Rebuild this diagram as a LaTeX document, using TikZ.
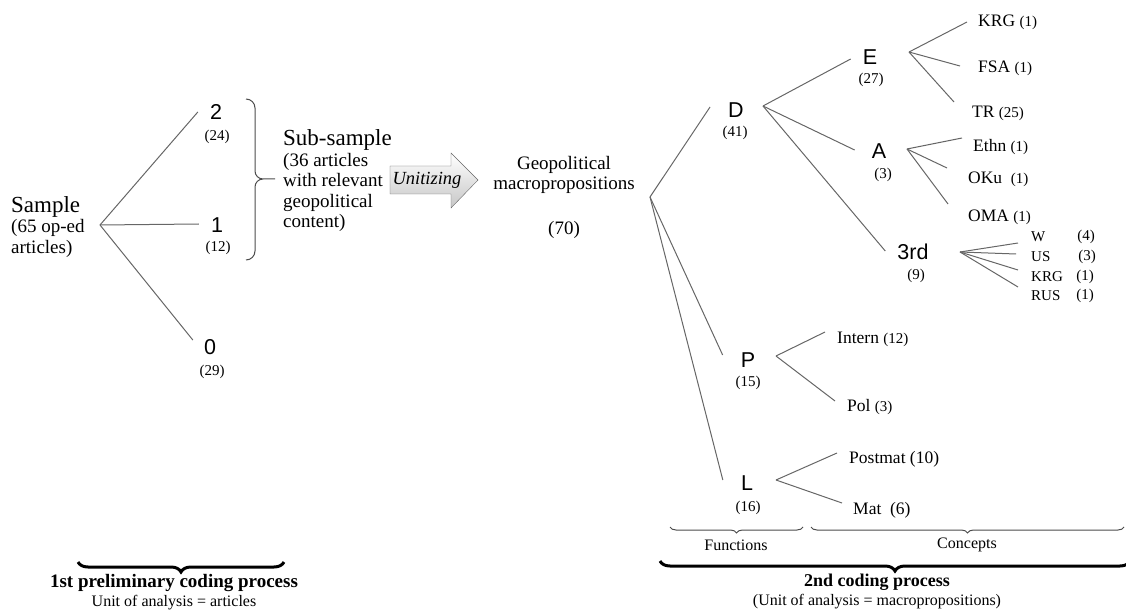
\documentclass[tikz,border=0pt]{standalone}
\usepackage{fontspec}
\setmainfont{Liberation Serif}
\setsansfont{Liberation Sans}
\usepackage{tikz}
\usetikzlibrary{calc,decorations.pathreplacing}

\newcommand{\smallcnt}[1]{{\fontsize{15}{16}\selectfont(#1)}}
\newcommand{\bigsz}{\fontsize{23}{25}\selectfont}

\begin{document}
\begin{tikzpicture}[x=1pt,y=-1pt,
    link/.style={draw=black!60,line width=1pt},
    fn/.style={font=\sffamily\fontsize{21.5}{22}\selectfont,inner sep=0pt},
    cnt/.style={font=\fontsize{15}{16}\selectfont,inner sep=0pt},
    leaf/.style={font=\fontsize{17.5}{19}\selectfont,inner sep=0pt,anchor=west},
    leafsm/.style={font=\fontsize{15}{16}\selectfont,inner sep=0pt,anchor=west},
    body/.style={font=\fontsize{19}{20.5}\selectfont,inner sep=0pt},
    caption/.style={font=\fontsize{16}{17}\selectfont,inner sep=0pt},
    thinbrace/.style={draw=black!70,line width=1pt,decorate,decoration={brace,mirror,amplitude=6pt}},
    thickbrace/.style={draw=black,line width=3pt,decorate,decoration={brace,mirror,amplitude=10pt}}]
    \useasboundingbox (0,0) rectangle (1126,612);

    % 1st coding
    \node[body,align=left,anchor=west] (sample) at (11,227) {{\bigsz Sample}\\(65 op-ed\\articles)};
    \coordinate (samplefork) at (100,225);
    \node[fn] (two) at (216,112) {2};
    \node[cnt] (twocnt) at (217,137) {(24)};
    \node[fn] (one) at (217,225) {1};
    \node[cnt] (onecnt) at (218,248) {(12)};
    \node[fn] (zero) at (210,347) {0};
    \node[cnt] (zerocnt) at (212,372) {(29)};

    \draw[link] (samplefork) -- ($(two.west)+(-12,0)$);
    \draw[link] (samplefork) -- ($(one.west)+(-12,-1)$);
    \draw[link] (samplefork) -- ($(zero.west)+(-11,-7)$);

    \draw[black!70,line width=1pt] (246,99) to[out=0,in=90] (255,108) -- (255,171)
      to[out=-90,in=180] (263,179) -- (275,179)
      (263,179) to[out=180,in=90] (255,187) -- (255,251) to[out=-90,in=0] (246,260);

    \node[body,align=left,anchor=west] (subsample) at (283,181) {{\bigsz Sub-sample}\\(36 articles\\with relevant\\geopolitical\\content)};

    \draw[draw=black!60,top color=white,bottom color=black!22] (390,166) -- (451,166) -- (451,153)
      -- (478,180) -- (451,208) -- (451,194) -- (390,194) -- cycle;
    \node[body,font=\itshape\fontsize{18.5}{20}\selectfont] (unitizing) at (427,180) {Unitizing};

    \node[body,align=center] (geo) at (564,175) {Geopolitical\\macropropositions};
    \node[body] (geocnt) at (564,230) {(70)};

    % 2nd coding: functions
    \coordinate (geofork) at (650,197);
    \node[fn] (D) at (736,110) {D};
    \node[cnt] (Dcnt) at (735,133) {(41)};
    \node[fn] (P) at (748,360) {P};
    \node[cnt] (Pcnt) at (748,383) {(15)};
    \node[fn] (L) at (747,483) {L};
    \node[cnt] (Lcnt) at (748,508) {(16)};

    \draw[link] (geofork) -- ($(D.west)+(-18,-3)$);
    \draw[link] (geofork) -- ($(P.west)+(-18,-5)$);
    \draw[link] (geofork) -- ($(L.west)+(-18,-3)$);

    \coordinate (Dfork) at (763,106);
    \node[fn] (E) at (870,57) {E};
    \node[cnt] (Ecnt) at (871,80) {(27)};
    \node[fn] (A) at (879,151) {A};
    \node[cnt] (Acnt) at (883,175) {(3)};
    \node[fn] (third) at (913,252) {3rd};
    \node[cnt] (thirdcnt) at (916,276) {(9)};

    \draw[link] (Dfork) -- ($(E.west)+(-12,2)$);
    \draw[link] (Dfork) -- ($(A.west)+(-17,-1)$);
    \draw[link] (Dfork) -- ($(third.west)+(-12,-1)$);

    % concepts
    \coordinate (Efork) at (909,52);
    \node[leaf] (krgE) at (978,22) {KRG \smallcnt{1}};
    \node[leaf] (fsa) at (978,68) {FSA \smallcnt{1}};
    \node[leaf] (tr) at (972,113) {TR \smallcnt{25}};
    \draw[link] (Efork) -- ($(krgE.west)+(-11,0)$);
    \draw[link] (Efork) -- ($(fsa.west)+(-18,-2)$);
    \draw[link] (Efork) -- ($(tr.west)+(-18,-11)$);

    \coordinate (Afork) at (907,149);
    \node[leaf] (ethn) at (973,147) {Ethn \smallcnt{1}};
    \node[leaf] (oku) at (968,179) {OKu\ \ \smallcnt{1}};
    \node[leaf] (oma) at (968,217) {OMA \smallcnt{1}};
    \draw[link] (Afork) -- ($(ethn.west)+(-11,-9)$);
    \draw[link] (Afork) -- ($(oku.west)+(-21,-11)$);
    \draw[link] (Afork) -- ($(oma.west)+(-20,-13)$);

    \coordinate (thirdfork) at (960,252);
    \node[leafsm] (w) at (1031,237) {W};
    \node[cnt] (wcnt) at (1086,237) {(4)};
    \node[leafsm] (us) at (1031,257) {US};
    \node[cnt] (uscnt) at (1087,257) {(3)};
    \node[leafsm] (krg3) at (1031,277) {KRG};
    \node[cnt] (krg3cnt) at (1085,277) {(1)};
    \node[leafsm] (rus) at (1031,296) {RUS};
    \node[cnt] (ruscnt) at (1085,296) {(1)};
    \draw[link] (thirdfork) -- ($(w.west)+(-13,6)$);
    \draw[link] (thirdfork) -- ($(us.west)+(-15,-3)$);
    \draw[link] (thirdfork) -- ($(krg3.west)+(-13,-7)$);
    \draw[link] (thirdfork) -- ($(rus.west)+(-13,-9)$);

    \coordinate (Pfork) at (776,356);
    \node[leaf] (intern) at (837,339) {Intern \smallcnt{12}};
    \node[leaf] (pol) at (847,407) {Pol \smallcnt{3}};
    \draw[link] (Pfork) -- ($(intern.west)+(-12,-7)$);
    \draw[link] (Pfork) -- ($(pol.west)+(-12,-6)$);

    \coordinate (Lfork) at (776,480);
    \node[leaf] (postmat) at (849,459) {Postmat (10)};
    \node[leaf] (mat) at (853,510) {Mat\ \ (6)};
    \draw[link] (Lfork) -- ($(postmat.west)+(-12,-6)$);
    \draw[link] (Lfork) -- ($(mat.west)+(-11,-7)$);

    % braces
    \draw[thinbrace] (670,527) -- (803,527);
    \node[caption] (functions) at (736,545) {Functions};
    \draw[thinbrace] (811,527) -- (1124,527);
    \node[caption] (concepts) at (967,545) {Concepts};

    \draw[thickbrace] (660,561) -- (1130,561);
    \node[font=\bfseries\fontsize{18}{20}\selectfont,inner sep=0pt] (second) at (877,582) {2nd coding process};
    \node[font=\fontsize{16}{18}\selectfont,inner sep=0pt] (secondunit) at (877,602) {(Unit of analysis = macropropositions)};

    \draw[thickbrace] (78,562) -- (284,562);
    \node[font=\bfseries\fontsize{19}{21}\selectfont,inner sep=0pt] (first) at (174,583) {1st preliminary coding process};
    \node[font=\fontsize{16}{18}\selectfont,inner sep=0pt] (firstunit) at (174,603) {Unit of analysis = articles};
\end{tikzpicture}
\end{document}
